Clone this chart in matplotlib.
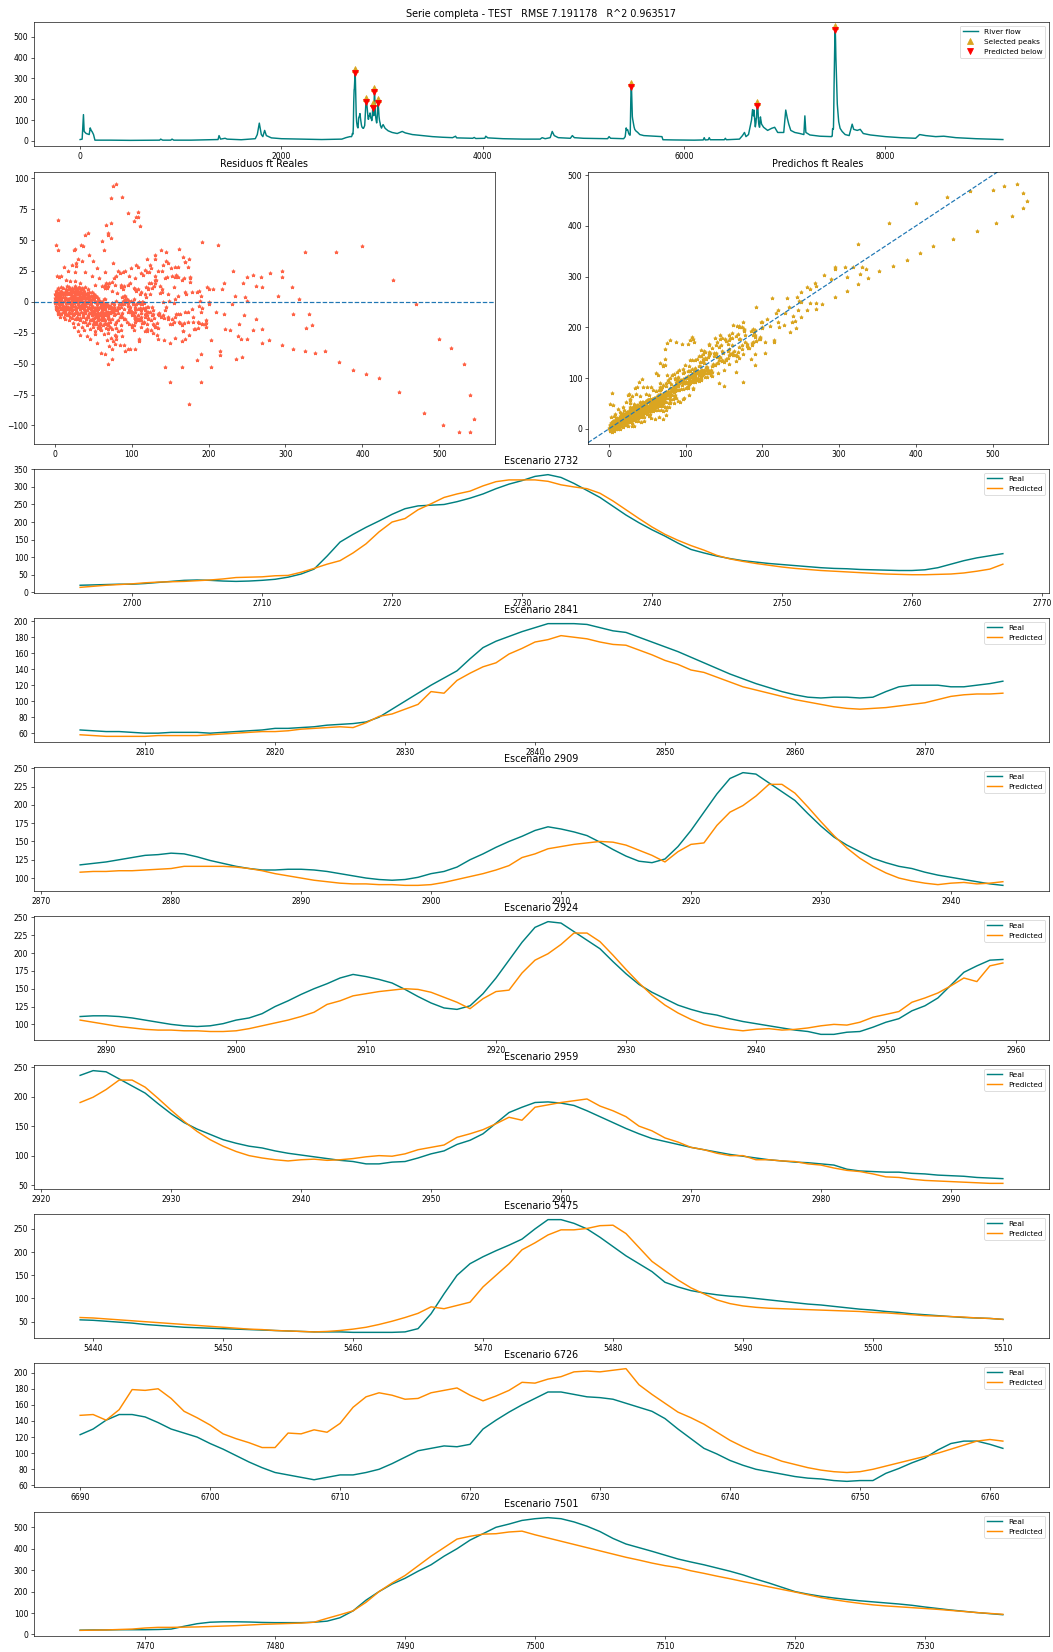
import matplotlib
matplotlib.use("Agg")
import matplotlib.pyplot as plt
from matplotlib.transforms import offset_copy
import numpy as np

W, H, DPI = 1053, 1652, 58
plt.rcParams['xtick.labelsize'] = 9.5
plt.rcParams['ytick.labelsize'] = 9.5
plt.rcParams['legend.fontsize'] = 9.2
plt.rcParams['lines.linewidth'] = 1.8

# ---------------- data ----------------
# river flow outside the scenario windows (index, value breakpoints)
flow_idx = [0, 20, 33, 40, 60, 90, 100, 110, 120, 133, 147, 300, 500, 790, 800, 820, 900, 913, 930,
            1100, 1200, 1370, 1380, 1395, 1440, 1460, 1600, 1740, 1760, 1780, 1800, 1815, 1833, 1850,
            1900, 2000, 2200, 2400, 2600, 2640, 2680, 2695,
            2775, 2780, 2786, 2795, 2800,
            3000, 3010, 3030, 3060, 3100, 3150, 3200, 3230, 3300, 3400, 3500, 3600, 3700, 3730, 3740,
            3900, 3915, 3930, 4020, 4030, 4050, 4200, 4400, 4570, 4590, 4620, 4670, 4690, 4710, 4750,
            4870, 4890, 4910, 5000, 5240, 5255, 5270, 5400, 5415, 5425, 5432,
            5520, 5540, 5560, 5600, 5700, 5780, 5790, 5900, 6100, 6190, 6200, 6210, 6240, 6250, 6260,
            6400, 6410, 6420, 6550, 6580, 6600, 6615, 6640, 6670, 6680, 6689,
            6770, 6790, 6830, 6870, 6900, 6930, 6990, 7010, 7025, 7040, 7060, 7100, 7150, 7190, 7200,
            7210, 7250, 7350, 7440, 7464,
            7550, 7570, 7600, 7640, 7670, 7685, 7720, 7750, 7780, 7850, 8000, 8150, 8300, 8340, 8400,
            8500, 8580, 8700, 8900, 9167]
flow_val = [6, 8, 126, 45, 35, 30, 62, 50, 43, 30, 3, 3, 2, 3, 8, 3, 3, 8, 3,
            3, 4, 6, 25, 8, 12, 8, 5, 10, 30, 85, 30, 20, 50, 25,
            14, 10, 8, 6, 8, 15, 20, 20,
            120, 131, 105, 75, 66,
            70, 78, 60, 48, 40, 35, 45, 38, 30, 25, 20, 17, 15, 22, 14,
            12, 16, 11, 12, 22, 14, 10, 8, 8, 15, 10, 15, 45, 25, 15,
            12, 25, 15, 12, 10, 20, 12, 10, 20, 62, 50,
            48, 40, 30, 25, 22, 20, 5, 4, 3, 4, 15, 4, 5, 15, 5,
            5, 12, 5, 8, 25, 40, 20, 30, 100, 150, 120,
            80, 65, 50, 60, 65, 40, 40, 148, 110, 80, 50, 40, 35, 30, 120,
            40, 28, 22, 20, 20,
            60, 45, 30, 25, 80, 55, 50, 55, 35, 28, 20, 15, 12, 30, 25,
            20, 22, 15, 10, 6]

# scenario windows (consecutive days starting at the given index)
w1_start = 2696
w1_real = [20, 21, 22, 23, 23, 25, 28, 31, 34, 35,
           34, 32, 31, 32, 34, 37, 43, 52, 66, 103,
           143, 165, 185, 203, 222, 238, 246, 248, 250, 258,
           268, 280, 295, 308, 318, 330, 335, 327, 310, 290,
           270, 245, 220, 198, 178, 160, 140, 122, 112, 103,
           96, 90, 86, 82, 79, 76, 73, 70, 68, 67,
           65, 64, 63, 62, 62, 64, 70, 80, 90, 98,
           104, 110]
w1_pred = [14, 17, 20, 22, 24, 27, 29, 30, 31, 33,
           35, 38, 42, 43, 44, 47, 48, 57, 68, 80,
           90, 112, 138, 172, 200, 210, 235, 252, 270, 280,
           288, 303, 315, 320, 320, 320, 316, 306, 300, 295,
           282, 260, 235, 210, 186, 165, 148, 133, 120, 105,
           95, 88, 82, 77, 72, 68, 65, 62, 60, 58,
           56, 54, 52, 51, 50, 50, 51, 52, 55, 60,
           66, 80]

w2_start = 2805
w2_real = [64, 63, 62, 62, 61, 60, 60, 61, 61, 61,
           60, 61, 62, 63, 64, 66, 66, 67, 68, 70,
           71, 72, 74, 80, 90, 100, 110, 120, 129, 138,
           153, 167, 175, 181, 187, 192, 197, 197, 197, 196,
           192, 188, 186, 180, 174, 168, 162, 155, 148, 141,
           134, 128, 122, 117, 112, 108, 105, 104, 105, 105,
           104, 105, 112, 118, 120, 120, 120, 118, 118, 120,
           122, 125, 128, 131, 132, 134, 133, 129, 124, 120,
           116, 113, 111, 111, 112, 112, 111, 109, 106, 103,
           100, 98, 97, 98, 101, 106, 109, 115, 125, 133,
           142, 150, 157, 165, 170, 167, 163, 158, 149, 139,
           130, 123, 121, 126, 143, 165, 190, 215, 236, 244,
           242, 230, 218, 206, 188, 171, 156, 145, 136, 127,
           121, 116, 113, 108, 104, 101, 98, 95, 92, 90,
           86, 86, 89, 90, 96, 103, 108, 119, 126, 137,
           155, 173, 182, 190, 191, 189, 185, 176, 166, 156,
           146, 137, 129, 124, 119, 114, 110, 106, 102, 99,
           96, 93, 91, 89, 88, 86, 84, 77, 74, 73,
           72, 72, 70, 69, 67, 66, 65, 63, 62, 61]
w2_pred = [58, 57, 56, 56, 56, 56, 57, 57, 57, 57,
           58, 59, 60, 61, 62, 62, 63, 65, 66, 67,
           68, 67, 73, 81, 84, 90, 96, 112, 110, 126,
           135, 143, 148, 159, 166, 174, 177, 182, 180, 178,
           174, 171, 170, 164, 158, 151, 146, 139, 136, 130,
           124, 118, 114, 110, 106, 102, 99, 96, 93, 91,
           90, 91, 92, 94, 96, 98, 102, 106, 108, 109,
           109, 110, 110, 111, 112, 113, 116, 116, 116, 116,
           115, 113, 110, 106, 103, 100, 97, 95, 93, 92,
           92, 91, 91, 90, 90, 91, 94, 98, 102, 106,
           111, 117, 128, 133, 140, 143, 146, 148, 150, 149,
           145, 138, 131, 122, 136, 146, 148, 172, 190, 199,
           212, 228, 228, 216, 197, 177, 158, 141, 127, 116,
           107, 100, 96, 93, 91, 93, 94, 92, 93, 95,
           98, 100, 99, 103, 110, 114, 118, 131, 137, 144,
           154, 165, 160, 182, 186, 190, 193, 196, 184, 176,
           166, 150, 142, 130, 123, 114, 110, 104, 100, 100,
           93, 93, 91, 90, 86, 84, 79, 75, 73, 69,
           64, 63, 60, 58, 57, 56, 55, 54, 53, 53]

w3_start = 5439
w3_real = [54, 53, 51, 49, 47, 44, 42, 40, 38, 37,
           36, 35, 34, 33, 32, 31, 30, 29, 28, 28,
           28, 27, 27, 27, 27, 28, 35, 67, 110, 150,
           175, 190, 203, 215, 228, 250, 270, 270, 262, 250,
           232, 212, 192, 175, 158, 135, 125, 117, 112, 108,
           105, 103, 100, 97, 94, 91, 88, 86, 83, 80,
           77, 75, 72, 70, 67, 65, 63, 61, 59, 58,
           57, 55]
w3_pred = [59, 58, 56, 54, 52, 50, 48, 46, 44, 42,
           40, 38, 36, 34, 33, 31, 30, 29, 28, 29,
           31, 34, 38, 44, 51, 59, 68, 82, 78, 85,
           92, 125, 150, 175, 205, 220, 237, 248, 248, 251,
           257, 258, 240, 210, 180, 160, 140, 123, 110, 97,
           89, 84, 81, 79, 78, 77, 76, 75, 74, 73,
           72, 70, 69, 67, 65, 63, 62, 61, 60, 58,
           57, 55]

w4_start = 6690
w4_real = [123, 130, 141, 148, 148, 145, 138, 130, 125, 120,
           112, 105, 97, 89, 82, 76, 73, 70, 67, 70,
           73, 73, 76, 80, 87, 95, 103, 106, 109, 108,
           111, 130, 141, 151, 160, 168, 176, 176, 173, 170,
           169, 167, 162, 157, 152, 143, 130, 118, 106, 99,
           91, 85, 80, 77, 74, 71, 69, 68, 66, 65,
           66, 66, 75, 81, 88, 94, 104, 112, 115, 115,
           111, 106]
w4_pred = [147, 148, 141, 154, 179, 178, 180, 168, 152, 144,
           135, 124, 118, 113, 107, 107, 125, 124, 129, 126,
           137, 157, 170, 175, 172, 167, 168, 175, 178, 181,
           172, 165, 171, 178, 188, 187, 192, 195, 201, 202,
           201, 203, 205, 185, 173, 162, 151, 144, 136, 126,
           116, 108, 101, 96, 90, 86, 82, 79, 77, 76,
           77, 80, 84, 88, 92, 96, 100, 105, 110, 115,
           117, 115]

w5_start = 7465
w5_real = [20, 21, 21, 22, 22, 22, 23, 25, 38, 50,
           57, 59, 59, 58, 56, 55, 55, 55, 57, 62,
           78, 110, 160, 200, 235, 262, 295, 325, 365, 400,
           440, 470, 500, 515, 532, 540, 545, 540, 525, 505,
           480, 448, 422, 405, 388, 370, 352, 338, 325, 310,
           295, 278, 258, 240, 220, 200, 188, 178, 170, 163,
           157, 152, 147, 142, 136, 128, 121, 114, 108, 102,
           97, 92]
w5_pred = [19, 20, 21, 23, 25, 30, 33, 33, 34, 35,
           37, 39, 41, 44, 47, 49, 51, 53, 57, 75,
           92, 110, 150, 200, 240, 275, 320, 365, 405, 445,
           458, 468, 470, 478, 482, 465, 450, 435, 420, 405,
           390, 375, 360, 347, 333, 321, 312, 297, 285, 272,
           260, 247, 235, 222, 210, 198, 185, 172, 162, 153,
           145, 138, 133, 129, 125, 121, 117, 112, 107, 102,
           98, 94]

peaks = [2732, 2841, 2909, 2924, 2959, 5475, 6726, 7501]

# other test points for the residual / scatter panels (real, residual)
extra_real = [0.5, 1, 1, 2, 2, 2, 3, 3, 3, 4, 4, 4, 5, 5, 5, 6, 6, 6, 7, 7,
              8, 8, 9, 9, 10, 10, 11, 11, 12, 12, 13, 13, 14, 14, 15, 15, 16, 16, 17, 17,
              18, 18, 19, 19, 20, 20, 21, 21, 22, 22, 23, 23, 24, 24, 25, 25, 26, 26, 27, 27,
              28, 28, 29, 29, 30, 30, 31, 31, 32, 32, 33, 33, 34, 34, 35, 35, 36, 36, 37, 37,
              38, 38, 39, 39, 40, 40, 41, 41, 42, 42, 43, 43, 44, 44, 45, 45, 46, 46, 47, 47,
              48, 48, 49, 49, 50, 50, 51, 51, 52, 52, 53, 53, 54, 54, 55, 55, 56, 56, 57, 57,
              58, 58, 59, 60, 60, 61, 62, 62, 63, 64, 64, 65, 66, 67, 67, 68, 69, 70, 70, 71,
              72, 73, 74, 74, 75, 76, 77, 78, 78, 79, 80, 81, 82, 83, 84, 85, 86, 87, 88, 90,
              4, 2, 5, 3, 8, 6, 12, 15, 18, 22, 25, 26, 30, 34, 37, 39, 43, 45, 50, 55,
              61, 64, 40, 28, 20, 48, 58, 33, 52, 66,
              25, 30, 33, 38, 42, 46, 52, 55, 60, 65, 70, 74, 71, 68, 75, 78, 80, 85, 92, 96,
              92, 95, 98, 100, 104, 108, 112, 115, 118, 120, 124, 128, 132, 135, 140, 145, 150,
              155, 160, 170, 180, 190, 200, 210,
              1, 1.5, 2.5, 3, 3.5, 4.5, 5, 5.5, 6.5, 7, 7.5, 8.5, 9, 9.5, 10.5, 11, 11.5, 12.5, 13, 13.5,
              14.5, 15, 15.5, 16.5, 17, 17.5, 18.5, 19, 19.5, 20.5, 21, 21.5, 22.5, 23, 23.5, 24.5, 25,
              25.5, 26.5, 27,
              27.5, 28.5, 29, 29.5, 30.5, 31, 31.5, 32.5, 33, 33.5, 34.5, 35, 35.5, 36.5, 37, 37.5, 38.5,
              39, 39.5, 40.5,
              41, 41.5, 42.5, 43, 43.5, 44.5, 45, 45.5, 46.5, 47, 47.5, 48.5, 49, 49.5, 50.5, 51, 51.5,
              52.5, 53, 53.5,
              54.5, 55, 55.5, 56.5, 57, 57.5, 58.5, 59, 59.5, 60.5, 61, 62, 63, 64, 65, 66, 68, 69, 71, 73,
              2, 4, 6, 8, 10, 12, 14, 16, 18, 20, 22, 24, 26, 28, 30, 32, 34, 36, 38, 40,
              3, 5, 7, 9, 11, 13, 15, 17, 19, 21, 23, 25, 27, 29, 31, 33, 35, 37, 39, 41,
              43, 45, 47, 49, 51, 53, 55, 57, 59, 61, 63, 65, 67, 69, 72, 75, 77, 80, 83, 86]
extra_resid = [1, -1, 3, 0, 5, -3, 2, 8, -5, -1, 6, 10, 3, -7, 11, 0, 7, -9, 4, -4,
               9, -2, 2, -10, 6, -6, 11, -3, 1, -12, 8, -8, 4, -14, 10, -1, -5, 13, 2, -11,
               7, -4, 12, -15, 3, -9, 9, -2, 5, -13, 11, -6, 0, -17, 8, -10, 4, -3, 13, -14,
               6, -7, 10, -12, 2, -18, 9, -4, 12, -10, 5, -15, 1, -8, 11, -20, 7, -3, -12, 3,
               9, -6, 4, -16, 12, -9, 0, -13, 7, -19, 10, -5, 3, -11, 8, -17, -2, -22, 5, -8,
               2, -14, 8, -10, -4, -20, 6, -16, 1, -7, -12, -24, 4, -18, -2, -9, -15, 3, -21, -6,
               -11, 1, -17, -4, -23, -8, -13, 0, -19, -6, -26, -11, -15, -3, -21, -9, -17, -12, -25, -5,
               -16, -29, -8, -22, -14, -32, -4, -18, -27, -10, -21, -7, -15, -24, -2, -12, -19, -9, -28, -14,
               66, 46, 42, 21, 21, 20, 28, 18, 25, 30, 42, 43, 35, 46, 45, 54, 56, 38, 33, 27,
               49, 42, 24, 29, 17, 21, 19, 15, 14, 24,
               -20, -24, -27, -23, -28, -30, -26, -33, -41, -42, -50, -46, -36, -31, -38, -34, -30, -35,
               -40, -38,
               5, -8, 15, -20, 10, 28, -15, 22, -5, 35, 30, -25, 18, -30, 25, 40, -18, 12,
               20, 8, -12, 5, 10, -8,
               6, -4, 9, -7, 1, -10, 5, -2, 8, -12, 1, -6, 12, -1, 4, -8, 7, -4, 2, -10,
               6, -3, 9, -11, 1, -6, 10, -8, 3, -12, 6, -4, 9, -7, 2, -11, 5, -1, -9, 7,
               -5, 3, -14, 8, -2, -10, 4, -6, 9, -13, 2, -4, 7, -11, 0, -16, 5, -8, 1, -14,
               3, -7, -1, -12, 6, -4, -9, 2, -15, -6, 1, -11, -3, -18, 2, -8, -13, 0, -5, -16,
               -2, -11, -7, 1, -14, -19, -4, -9, -22, -1, -15, -7, -12, 2, -18, -6, -10, -22, -14, -8,
               -6, 2, -4, 4, -2, 6, -7, 2, -1, 8, -3, 5, -6, 3, -1, 7, -5, 4, -2, -7,
               4, -8, 6, 0, -5, 3, -10, 6, -6, 1, -9, 3, 9, -8, 1, -3, 5, -9, 3, -3,
               1, -5, -1, -7, 3, -10, -5, -12, 0, -9, -3, -17, -8, -13, -20, -6, -11, -16, -4, -23]

# ---------------- assemble ----------------
real_at, pred_at = {}, {}
for start, rv, pv in [(w1_start, w1_real, w1_pred), (w2_start, w2_real, w2_pred),
                      (w3_start, w3_real, w3_pred), (w4_start, w4_real, w4_pred),
                      (w5_start, w5_real, w5_pred)]:
    for k in range(len(rv)):
        real_at[start + k] = rv[k]
        pred_at[start + k] = pv[k]

series = dict(zip(flow_idx, flow_val))
series.update(real_at)
sx = sorted(series)
sy = [series[i] for i in sx]

win_idx = sorted(real_at)
sc_real = np.array([real_at[i] for i in win_idx] + extra_real, dtype=float)
sc_res = np.array([pred_at[i] - real_at[i] for i in win_idx] + extra_resid, dtype=float)
sc_pred = sc_real + sc_res

teal = '#008080'
orange = '#FF8C00'

fig = plt.figure(figsize=(W / DPI, H / DPI), dpi=DPI)


def box(l, t, r, b):
    return [l / W, 1 - b / H, (r - l) / W, (b - t) / H]


# top: full series
ax = fig.add_axes(box(34, 22, 1049, 146))
ax.plot(sx, sy, color=teal, label='River flow')
pk_y = [real_at[p] for p in peaks]
up = offset_copy(ax.transData, fig=fig, x=0, y=2.5, units='points')
down = offset_copy(ax.transData, fig=fig, x=0, y=-2.5, units='points')
ax.plot(peaks, pk_y, '^', color='goldenrod', markersize=8, label='Selected peaks', transform=up)
ax.plot(peaks, pk_y, 'v', color='red', markersize=8, label='Predicted below', transform=down)
ax.set_title('Serie completa - TEST   RMSE 7.191178   R^2 0.963517')
ax.legend(loc='upper right')

# residuals
ax = fig.add_axes(box(34, 172, 495, 444))
ax.scatter(sc_real, sc_res, marker='*', s=18, color='tomato')
ax.axhline(0, linestyle='--', color='C0', linewidth=1.5)
ax.set_title('Residuos ft Reales')

# predicted vs real
ax = fig.add_axes(box(588, 172, 1048, 444))
ax.scatter(sc_real, sc_pred, marker='*', s=18, color='goldenrod')
ax.axline((0, 0), (1, 1), linestyle='--', color='C0', linewidth=1.5)
ax.set_title('Predichos ft Reales')

# scenarios
for k, c in enumerate(peaks):
    top = 469 + 149 * k
    ax = fig.add_axes(box(34, top, 1049, top + 124))
    idx = list(range(c - 36, c + 36))
    ax.plot(idx, [real_at[i] for i in idx], color=teal, label='Real')
    ax.plot(idx, [pred_at[i] for i in idx], color=orange, label='Predicted')
    ax.set_title(f'Escenario {c}')
    ax.legend(loc='upper right')

fig.savefig('out.png', dpi=DPI)
